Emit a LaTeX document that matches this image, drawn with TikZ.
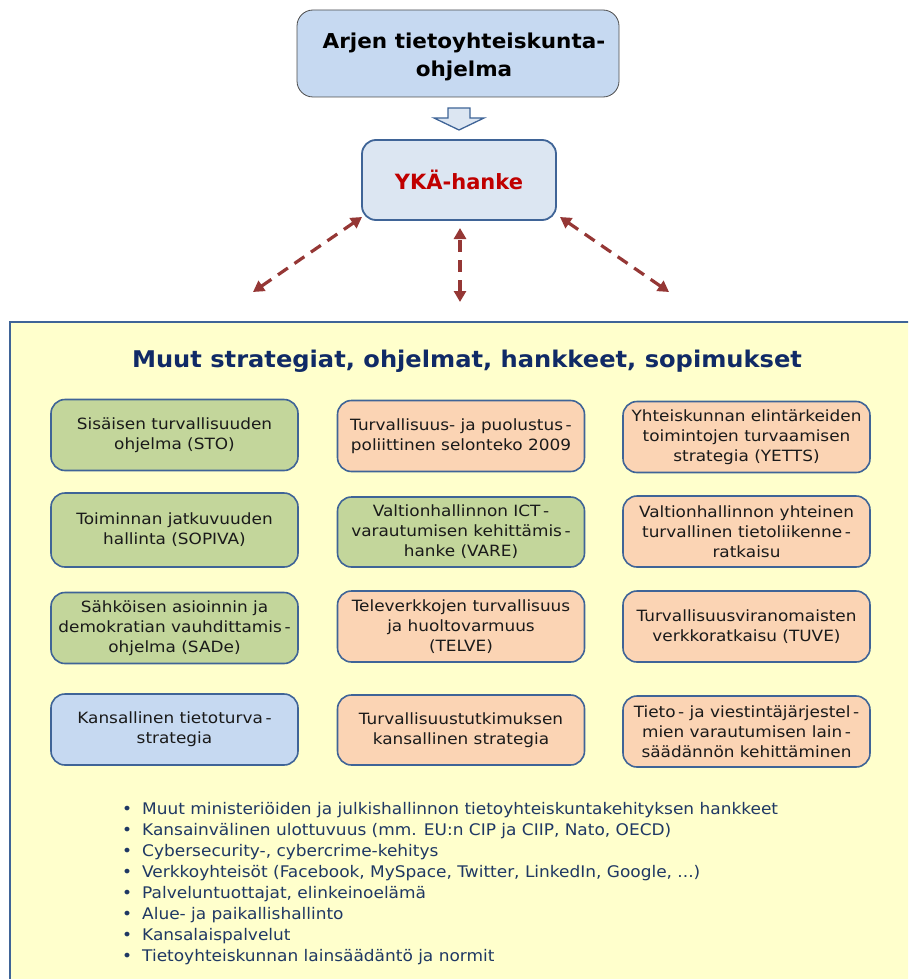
\documentclass[tikz,border=0pt]{standalone}
\usepackage{fontspec}
\setmainfont{DejaVu Sans}
\newfontfamily\widefont[FakeStretch=1.09]{DejaVu Sans}
\newfontfamily\listfont[FakeStretch=1.06]{DejaVu Sans}
\newfontfamily\headfont[FakeStretch=1.05]{DejaVu Sans}
\usetikzlibrary{arrows.meta}
\definecolor{edgeblue}{HTML}{3F6497}
\definecolor{topfill}{HTML}{C6D9F1}
\definecolor{hubfill}{HTML}{DCE6F2}
\definecolor{greenfill}{HTML}{C3D69B}
\definecolor{peachfill}{HTML}{FBD4B4}
\definecolor{bluefill}{HTML}{C6D9F1}
\definecolor{panelfill}{HTML}{FFFFCC}
\definecolor{linkred}{HTML}{953735}
\definecolor{hubred}{HTML}{C00000}
\definecolor{navy}{HTML}{102A66}
\definecolor{listnavy}{HTML}{1F3864}
\definecolor{bodytext}{HTML}{1A1A1A}
\tikzset{
  item/.style={draw=edgeblue, line width=1.6pt, rounded corners=14pt,
    minimum width=247pt, minimum height=71pt, align=center, inner sep=2pt,
    text=bodytext, font=\widefont\fontsize{15.5}{20}\selectfont},
  greenbox/.style={item, fill=greenfill},
  peachbox/.style={item, fill=peachfill},
  bluebox/.style={item, fill=bluefill},
  link/.style={draw=linkred, line width=3.2pt, dash pattern=on 12pt off 8pt,
    {Triangle[length=11pt,width=12pt]}-{Triangle[length=11pt,width=12pt]}},
}
\begin{document}
\begin{tikzpicture}[x=1pt,y=-1pt]
\useasboundingbox (0,0) rectangle (908,979);
\clip (0,0) rectangle (908,979);

% programme box and its title
\node[draw=black!70, line width=0.8pt, fill=topfill, rounded corners=16pt,
  minimum width=322pt, minimum height=87pt] (prog) at (458,53.5) {};
\node[align=center, font=\headfont\fontsize{20.5}{28}\selectfont\bfseries]
  (progtext) at (464,57) {Arjen tietoyhteiskunta-\\ohjelma};

% hollow arrow from programme to project
\draw[draw=edgeblue, line width=1.3pt, fill=hubfill, line join=miter]
  (448,108) -- (470,108) -- (470,118) -- (484,118) -- (459,130)
  -- (434,118) -- (448,118) -- cycle;

% project box
\node[draw=edgeblue, line width=1.8pt, fill=hubfill, rounded corners=14pt,
  minimum width=194pt, minimum height=80pt,
  font=\fontsize{21}{24}\selectfont\bfseries, text=hubred] (hub) at (459,180)
  {YKÄ-hanke};

% loose ends of the links
\coordinate (lend) at (253,292);
\coordinate (mend) at (460,302);
\coordinate (rend) at (669,292);
\coordinate (ltop) at (362,217);
\coordinate (mtop) at (460,228);
\coordinate (rtop) at (560,217);
\draw[link] (lend) -- (ltop);
\draw[link] (mend) -- (mtop);
\draw[link] (rend) -- (rtop);

% panel of other strategies
\draw[draw=edgeblue, line width=1.8pt, fill=panelfill] (10,322) rectangle (930,1000);
\node[font=\headfont\fontsize{23}{26}\selectfont\bfseries, text=navy] (title) at (467,361)
  {Muut strategiat, ohjelmat, hankkeet, sopimukset};

% first column
\node[greenbox] (sto) at (174.5,435) {Sisäisen turvallisuuden\\ohjelma (STO)};
\node[greenbox, minimum height=74pt] (sopiva) at (174.5,530) {Toiminnan jatkuvuuden\\hallinta (SOPIVA)};
\node[greenbox] (sade) at (174.5,628) {Sähköisen asioinnin ja\\demokratian vauhdittamis\,-\\ohjelma (SADe)};
\node[bluebox] (kans) at (174.5,729.5) {Kansallinen tietoturva\,-\\strategia};

% second column
\node[peachbox] (selonteko) at (461,436) {Turvallisuus- ja puolustus\,-\\poliittinen selonteko 2009};
\node[greenbox, minimum height=70pt] (vare) at (461,532) {Valtionhallinnon ICT\,-\\varautumisen kehittämis\,-\\hanke (VARE)};
\node[peachbox] (telve) at (461,626.5) {Televerkkojen turvallisuus\\ja huoltovarmuus\\(TELVE)};
\node[peachbox, minimum height=70pt] (tutk) at (461,730) {Turvallisuustutkimuksen\\kansallinen strategia};

% third column
\node[peachbox] (yetts) at (746.5,437) {Yhteiskunnan elintärkeiden\\toimintojen turvaamisen\\strategia (YETTS)};
\node[peachbox] (tuvl) at (746.5,531.5) {Valtionhallinnon yhteinen\\turvallinen tietoliikenne\,-\\ratkaisu};
\node[peachbox] (tuve) at (746.5,626.5) {Turvallisuusviranomaisten\\verkkoratkaisu (TUVE)};
\node[peachbox] (laki) at (746.5,731.5) {Tieto\,- ja viestintäjärjestel\,-\\mien varautumisen lain\,-\\säädännön kehittäminen};

% further actors
\node[anchor=north west, align=left, text=listnavy, inner sep=0pt,
  font=\listfont\fontsize{16}{21}\selectfont] (list) at (122,802)
{\textbullet\hspace{10pt}Muut ministeriöiden ja julkishallinnon tietoyhteiskuntakehityksen hankkeet\\
\textbullet\hspace{10pt}Kansainvälinen ulottuvuus (mm. EU:n CIP ja CIIP, Nato, OECD)\\
\textbullet\hspace{10pt}Cybersecurity-, cybercrime-kehitys\\
\textbullet\hspace{10pt}Verkkoyhteisöt (Facebook, MySpace, Twitter, LinkedIn, Google, ...)\\
\textbullet\hspace{10pt}Palveluntuottajat, elinkeinoelämä\\
\textbullet\hspace{10pt}Alue- ja paikallishallinto\\
\textbullet\hspace{10pt}Kansalaispalvelut\\
\textbullet\hspace{10pt}Tietoyhteiskunnan lainsäädäntö ja normit};
\end{tikzpicture}
\end{document}
